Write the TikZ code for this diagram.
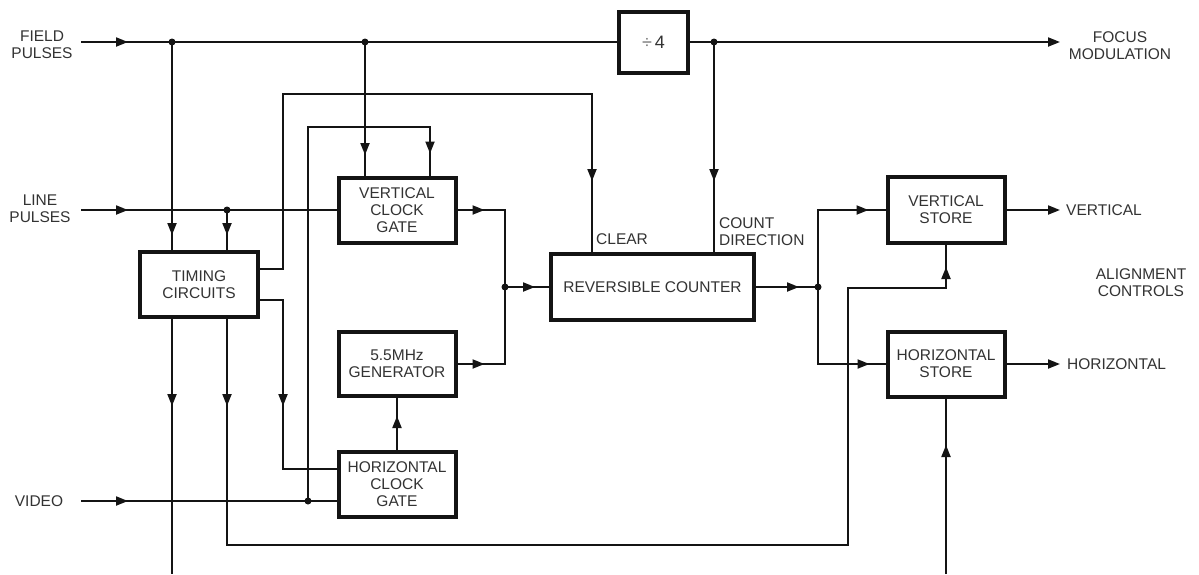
\documentclass[tikz,border=0pt]{standalone}
\usepackage{fontspec}
\setmainfont{Liberation Sans}
\usetikzlibrary{arrows.meta,decorations.markings}
\definecolor{txt}{HTML}{333333}
\definecolor{ink}{HTML}{141414}
\begin{document}
\begin{tikzpicture}[x=1pt,y=-1pt,
  every node/.style={font=\fontsize{15.5}{17}\selectfont, text=txt},
  blk/.style={draw=ink, line width=4pt, minimum width=117pt, minimum height=65pt, inner sep=2pt, align=center, fill=white},
  conn/.style={draw=ink, line width=2pt},
  arr/.style={postaction={decorate,decoration={markings,mark=at position #1 with {\arrow{Triangle[length=12pt,width=9pt]}}}}},
  endtip/.style={-{Triangle[length=12pt,width=9pt]}},
  lbl/.style={align=center, inner sep=0pt},
  jdot/.style={circle, fill=ink, inner sep=0pt, minimum size=7pt}
]
\useasboundingbox[fill=white] (0,0) rectangle (1199,574);

% blocks
\node[blk, minimum width=69pt, minimum height=61pt, font=\fontsize{18}{20}\selectfont] (div4) at (653.5,42) {{\color{txt!70}÷}\,4};
\node[blk] (vcg) at (397,210) {VERTICAL\\CLOCK\\GATE};
\node[blk, minimum width=118pt] (tim) at (199,284.5) {TIMING\\CIRCUITS};
\node[blk, minimum height=64pt] (gen) at (397,364) {5.5MHz\\GENERATOR};
\node[blk] (hcg) at (397,484.5) {HORIZONTAL\\CLOCK\\GATE};
\node[blk, minimum width=203pt, minimum height=66pt] (cnt) at (652.5,287) {REVERSIBLE COUNTER};
\node[blk, minimum height=66pt] (vst) at (946,210) {VERTICAL\\STORE};
\node[blk] (hst) at (946,364) {HORIZONTAL\\STORE};

% labels
\node[lbl] (fieldlbl) at (42,44.5) {FIELD\\PULSES};
\node[lbl] (linelbl) at (40,209) {LINE\\PULSES};
\node[lbl] (videolbl) at (39,501) {VIDEO};
\node[lbl] (focuslbl) at (1120,46) {FOCUS\\MODULATION};
\node[lbl, anchor=west] (vertlbl) at (1066,210) {VERTICAL};
\node[lbl, anchor=west] (horlbl) at (1067,364) {HORIZONTAL};
\node[lbl] (alignlbl) at (1141,283) {ALIGNMENT\\CONTROLS};
\node[lbl, anchor=west] (clearlbl) at (596,239) {CLEAR};
\node[lbl, anchor=west, align=left] (countlbl) at (719,231.5) {COUNT\\DIRECTION};

% coordinates
\coordinate (fpin) at (81,42);
\coordinate (fpout) at (1060,42);
\coordinate (lpin) at (81,210);
\coordinate (vin) at (81,501);
\coordinate (j1) at (172,42);
\coordinate (j2) at (365,42);
\coordinate (j3) at (714,42);
\coordinate (jl) at (227,210);
\coordinate (jv) at (308,501);
\coordinate (jm) at (505,287);
\coordinate (jo) at (818,287);
\coordinate (vout) at (1060,210);
\coordinate (hout) at (1060,364);
\coordinate (bl) at (172,574);
\coordinate (br) at (946,574);

% connectors
\draw[conn, arr=47pt] (fpin) -- (div4.west);
\draw[conn, endtip] (div4.east) -- (fpout);
\draw[conn, arr=193pt] (j1) -- (j1 |- tim.north);
\draw[conn, arr=47pt] (lpin) -- (vcg.west);
\draw[conn, arr=25pt] (jl) -- (jl |- tim.north);
\draw[conn, arr=113pt] (j2) -- (j2 |- vcg.north);
\draw[conn, arr=47pt] (vin) -- (vin -| hcg.west);
\draw[conn, arr=-22pt] (jv) -- (308,127) -| ([xshift=33pt]vcg.north);
\draw[conn, arr=-71pt] (tim.east |- 0,269) -- (283,269) -- (283,94) -| (cnt.north -| 592,0);
\draw[conn, arr=-71pt] (j3) -- (j3 |- cnt.north);
\draw[conn, arr=27pt] (vcg.east) -| (jm);
\draw[conn, arr=27pt] (gen.east) -| (jm);
\draw[conn, arr=30pt] (jm) -- (jm -| cnt.west);
\draw[conn, arr=43pt] (cnt.east) -- (jo);
\draw[conn, arr=-17pt] (jo) |- (vst.west);
\draw[conn, arr=-16pt] (jo) |- (hst.west);
\draw[conn, endtip] (vst.east) -- (vout);
\draw[conn, endtip] (hst.east) -- (hout);
\draw[conn, arr=129pt] (tim.east |- 0,300) -- (283,300) |- (hcg.west |- 0,469);
\draw[conn, arr=87pt, arr=-22pt] (tim.south -| jl) -- (227,545) -| (848,288) -| (vst.south);
\draw[conn, arr=87pt] (tim.south -| j1) -- (bl);
\draw[conn, arr=34pt] (hcg.north) -- (gen.south);
\draw[conn, arr=129pt] (br) -- (hst.south);

% junction dots
\node[jdot] (d1) at (j1) {};
\node[jdot] (d2) at (j2) {};
\node[jdot] (d3) at (j3) {};
\node[jdot] (d4) at (jl) {};
\node[jdot] (d5) at (jv) {};
\node[jdot] (d6) at (jm) {};
\node[jdot] (d7) at (jo) {};
\end{tikzpicture}
\end{document}
